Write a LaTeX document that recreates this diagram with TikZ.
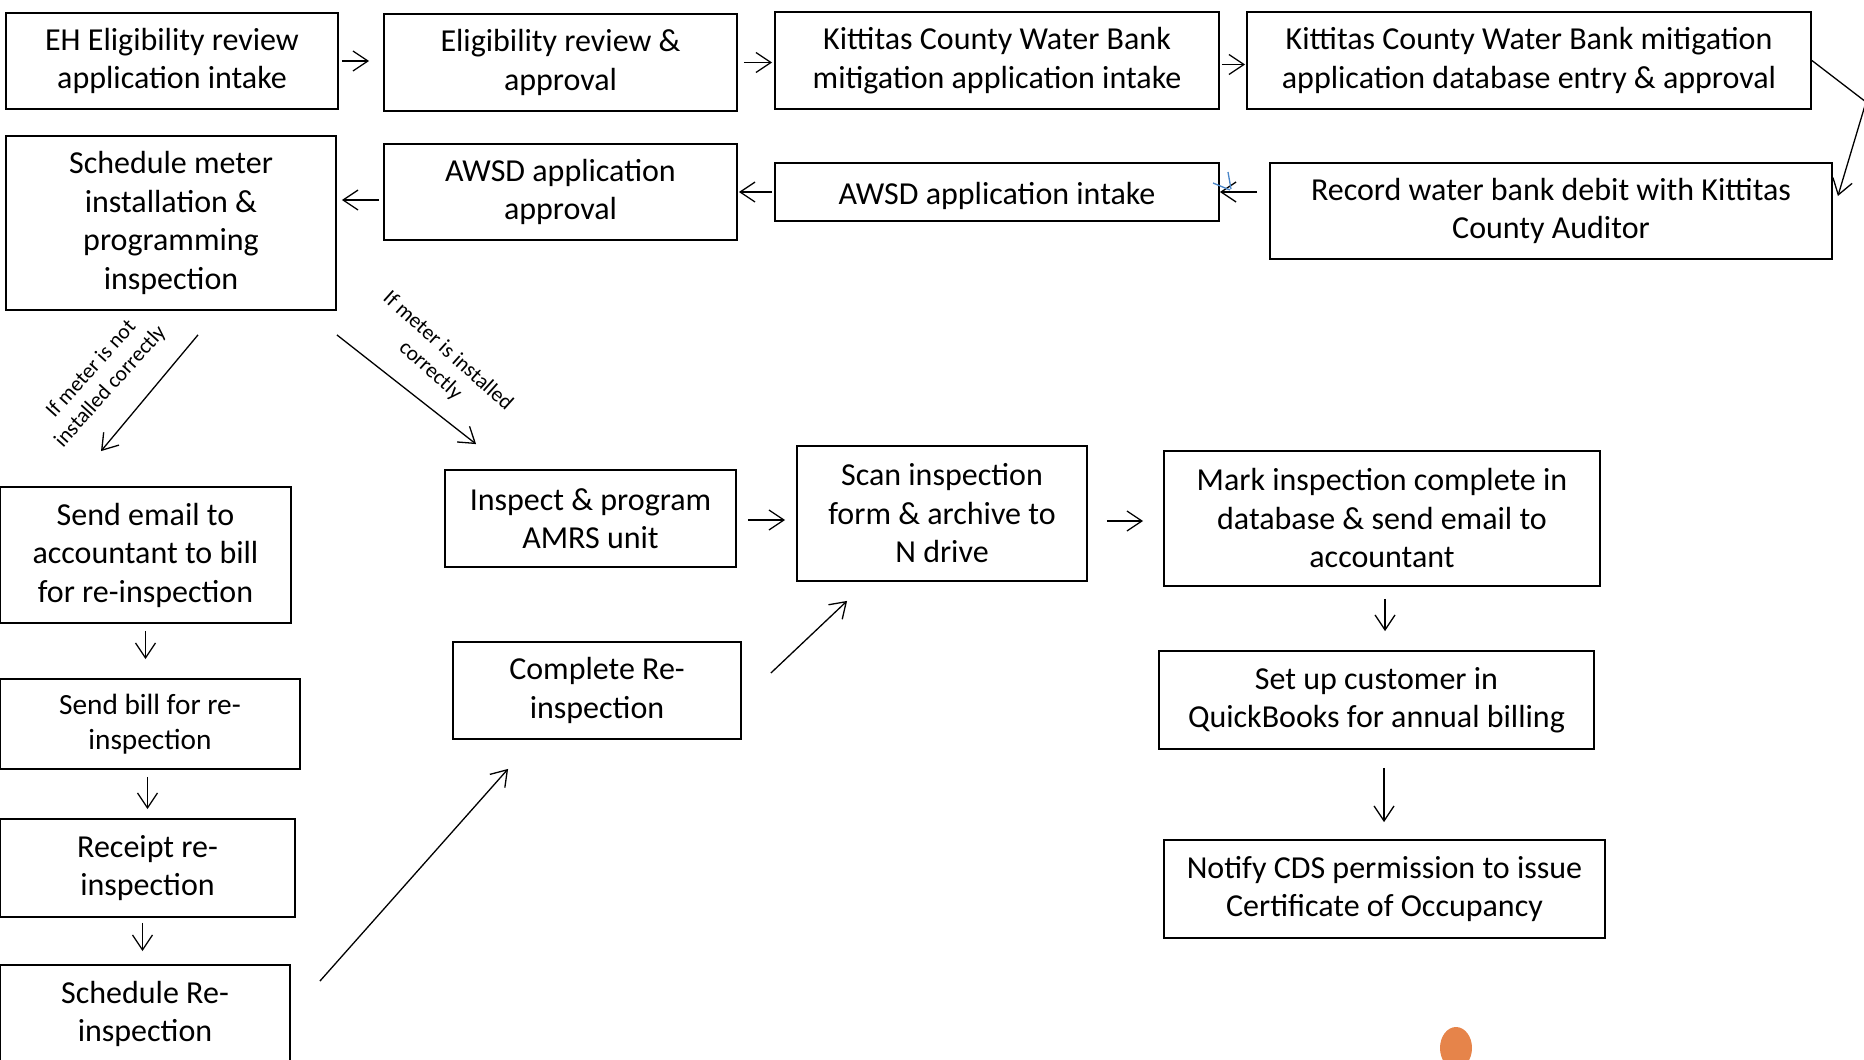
\documentclass[tikz,border=0pt]{standalone}
\usepackage{fontspec}
\setmainfont{Carlito}
\usepackage{tikz}
\usetikzlibrary{arrows.meta,calc}
\newcommand{\boxtxt}{\fontsize{32}{38.5}\selectfont}
\newcommand{\smalltxt}{\fontsize{29.3}{35}\selectfont}
\newcommand{\notetxt}{\fontsize{21.5}{26}\selectfont}
\definecolor{dotorange}{HTML}{E6844A}
\definecolor{penblue}{HTML}{4A86C8}

\begin{document}
\begin{tikzpicture}[
    x=1pt, y=-1pt,
    box/.style={draw, line width=1.8pt, align=center, inner sep=0, font=\boxtxt,
        execute at begin node={\rule{0pt}{30pt}}},
    conn/.style={line width=1.3pt, -{Straight Barb[length=15pt,width=20pt,line width=1.3pt]}},
    note/.style={align=center, inner sep=0, font=\notetxt}]
\useasboundingbox (0,0) rectangle (1864,1060);
\clip (0,0) rectangle (1864,1060);

% top row
\node[box, minimum width=332, minimum height=96] (EHINTAKE)   at (172,61)    {EH Eligibility review\\application intake};
\node[box, minimum width=353, minimum height=97] (ELIGREVIEW) at (560.5,62.5) {Eligibility review \&\\approval};
\node[box, minimum width=444, minimum height=97] (KCINTAKE)   at (997,60.5)  {Kittitas County Water Bank\\mitigation application intake};
\node[box, minimum width=564, minimum height=97] (KCENTRY)    at (1529,60.5) {Kittitas County Water Bank mitigation\\application database entry \& approval};

% second row
\node[box, minimum width=562, minimum height=96] (AUDITOR)    at (1551,211)  {Record water bank debit with Kittitas\\County Auditor};
\node[box, minimum width=444, minimum height=58] (AWSDINTAKE) at (997,192)   {AWSD application intake};
\node[box, minimum width=353, minimum height=96] (AWSDAPPR)   at (560.5,192) {AWSD application\\approval};
\node[box, minimum width=330, minimum height=174] (SCHEDMETER) at (171,223)  {Schedule meter\\installation \&\\programming\\inspection};

% re-inspection column
\node[box, minimum width=291, minimum height=136] (SENDEMAIL)  at (145.5,555) {Send email to\\accountant to bill\\for re-inspection};
\node[box, minimum width=300, minimum height=90, font=\smalltxt] (SENDBILL) at (150,724) {Send bill for re-\\inspection};
\node[box, minimum width=295, minimum height=98] (RECEIPT)    at (147.5,868) {Receipt re-\\inspection};
\node[box, minimum width=290, minimum height=98] (SCHEDRE)    at (145,1014)  {Schedule Re-\\inspection};

% inspection path
\node[box, minimum width=291, minimum height=97] (INSPECT)    at (590.5,518.5) {Inspect \& program\\AMRS unit};
\node[box, minimum width=288, minimum height=97] (COMPLETERE) at (597,690.5)  {Complete Re-\\inspection};
\node[box, minimum width=290, minimum height=135] (SCAN)      at (942,513.5)  {Scan inspection\\form \& archive to\\N drive};
\node[box, minimum width=436, minimum height=135] (MARKDONE)  at (1382,518.5) {Mark inspection complete in\\database \& send email to\\accountant};
\node[box, minimum width=435, minimum height=98] (QUICKBOOKS) at (1376.5,700) {Set up customer in\\QuickBooks for annual billing};
\node[box, minimum width=441, minimum height=98] (NOTIFYCDS)  at (1384.5,889) {Notify CDS permission to issue\\Certificate of Occupancy};

% branch labels
\node[note, rotate=48]  (NOTOK) at (101,378) {If meter is not\\installed correctly};
\node[note, rotate=-42] (ISOK)  at (439,361) {If meter is installed\\correctly};

\coordinate (BEND) at (1866,102);

\path[draw, conn, shorten <=3pt, shorten >=14pt] (EHINTAKE.east) -- (EHINTAKE.east -| ELIGREVIEW.west);
\path[draw, conn, shorten <=6pt, shorten >=2pt] (ELIGREVIEW.east) -- (ELIGREVIEW.east -| KCINTAKE.west);
\path[draw, conn, shorten <=2pt, shorten >=1pt] ([yshift=-4pt]KCINTAKE.east) -- ([yshift=-4pt]KCINTAKE.east -| KCENTRY.west);
\path[draw, conn] (KCENTRY.east) -- (BEND) -- ([xshift=5pt,yshift=15pt]AUDITOR.east);
\path[draw, conn, shorten <=12pt] ([yshift=19pt]AUDITOR.west) -- ([yshift=19pt]AUDITOR.west -| AWSDINTAKE.east);
\path[draw, conn, shorten <=2pt, shorten >=1pt] (AWSDINTAKE.west) -- (AWSDINTAKE.west -| AWSDAPPR.east);
\path[draw, conn, shorten <=4pt, shorten >=5pt] ([yshift=-8pt]AWSDAPPR.west) -- ([yshift=-8pt]AWSDAPPR.west -| SCHEDMETER.east);

\path[draw, conn] ([xshift=27pt,yshift=-24pt]SCHEDMETER.south) -- ([xshift=-44.5pt,yshift=35pt]SENDEMAIL.north);
\path[draw, conn] ([yshift=-24pt]SCHEDMETER.south east) -- ([xshift=32pt,yshift=25pt]INSPECT.north west);

\path[draw, conn, shorten <=7pt, shorten >=19pt] (SENDEMAIL.south) -- (SENDEMAIL.south |- SENDBILL.north);
\path[draw, conn, shorten <=7pt, shorten >=9pt] (RECEIPT.north |- SENDBILL.south) -- (RECEIPT.north);
\path[draw, conn, shorten <=5pt, shorten >=13pt] ([xshift=-5pt]RECEIPT.south) -- ([xshift=-5pt]RECEIPT.south |- SCHEDRE.north);
\path[draw, conn] ([xshift=29pt,yshift=-17pt]SCHEDRE.north east) -- ([xshift=56pt,yshift=-29pt]COMPLETERE.south west);
\path[draw, conn] ([xshift=29pt,yshift=17.5pt]COMPLETERE.east) -- ([xshift=51pt,yshift=-19pt]SCAN.south west);

\path[draw, conn, shorten <=11pt, shorten >=11pt] ([yshift=-1.5pt]INSPECT.east) -- ([yshift=-1.5pt]INSPECT.east -| SCAN.west);
\path[draw, conn, shorten <=19pt, shorten >=20pt] ([yshift=-7.5pt]SCAN.east) -- ([yshift=-7.5pt]SCAN.east -| MARKDONE.west);
\path[draw, conn, shorten <=12pt, shorten >=19pt] ([xshift=3pt]MARKDONE.south) -- ([xshift=3pt]MARKDONE.south |- QUICKBOOKS.north);
\path[draw, conn, shorten <=18pt, shorten >=17pt] ([xshift=7.5pt]QUICKBOOKS.south) -- ([xshift=7.5pt]QUICKBOOKS.south |- NOTIFYCDS.north);

% pen marks and slide dot
\path[draw, penblue, line width=1.3pt] (1213,183) -- (1230,190) (1228,172) -- (1231,189);
\path[fill=dotorange] (1456,1048) ellipse [x radius=16, y radius=21];

\end{tikzpicture}
\end{document}
